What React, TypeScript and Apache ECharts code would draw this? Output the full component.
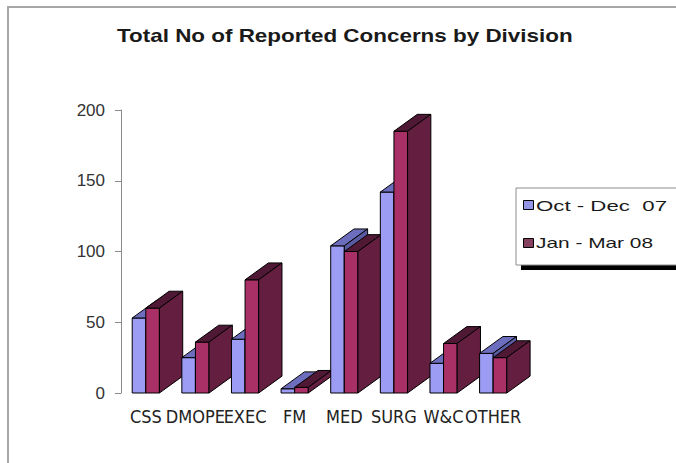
import React, { useEffect, useRef } from "react";
import * as echarts from "echarts";

// Divisions and reported concern counts per quarter
const categories = ["CSS", "DMOPE", "EXEC", "FM", "MED", "SURG", "W&C", "OTHER"];
const octDec07 = [53, 25, 38, 3, 104, 142, 21, 28];
const janMar08 = [60, 36, 80, 4, 100, 185, 35, 25];
const seriesNames = ["Oct - Dec  07", "Jan - Mar 08"];
const yTicks = { min: 0, max: 200, interval: 50 };
const titleText = "Total No of Reported Concerns by Division";

const W = 676;
const H = 463;

// Face colours for the pseudo-3D columns
const BLUE = { front: "#9c9cf4", top: "#6d6dbd", side: "#5a5aa0" };
const RED = { front: "#a83066", top: "#4f1834", side: "#631e40" };

// Horizontal stretch that makes a string occupy a given width
function stretchFor(text: string, font: string, width: number): number {
  const ctx = document.createElement("canvas").getContext("2d");
  if (!ctx) return 1;
  ctx.font = font;
  const w = ctx.measureText(text).width;
  return w > 0 ? width / w : 1;
}

export default function App() {
  const ref = useRef<HTMLDivElement>(null);

  useEffect(() => {
    document.body.style.margin = "0";
    if (!ref.current) return;
    const chart = echarts.init(ref.current, undefined, { renderer: "svg" });

    const titleFont = "bold 18px 'Liberation Sans'";
    const legendFont = "15px 'Liberation Sans'";
    const titleScale = stretchFor(titleText, titleFont, 456);
    const leg1Scale = stretchFor(seriesNames[0], legendFont, 131);
    const leg2Scale = stretchFor(seriesNames[1], legendFont, 117);

    const rows = categories.map((_, i) => [i, octDec07[i], janMar08[i]]);

    const renderItem = (params: any, api: any) => {
      const i = api.value(0);
      const base = api.coord([i, 0]);
      const bw = api.size([1, 0])[0];
      const w = bw * 0.274;
      const dx = bw * 0.47;
      const dy = bw * 0.34;
      const y0 = base[1];
      const children: any[] = [];
      const box = (x0: number, val: number, c: { front: string; top: string; side: string }) => {
        const yTop = api.coord([i, val])[1];
        const x1 = x0 + w;
        const st = (fill: string) => ({ fill, stroke: "#000", lineWidth: 1, lineJoin: "round" });
        children.push({
          type: "polygon",
          shape: { points: [[x0, y0], [x1, y0], [x1, yTop], [x0, yTop]] },
          style: st(c.front),
        });
        children.push({
          type: "polygon",
          shape: { points: [[x0, yTop], [x1, yTop], [x1 + dx, yTop - dy], [x0 + dx, yTop - dy]] },
          style: st(c.top),
        });
        children.push({
          type: "polygon",
          shape: { points: [[x1, y0], [x1 + dx, y0 - dy], [x1 + dx, yTop - dy], [x1, yTop]] },
          style: st(c.side),
        });
      };
      box(base[0] - w, api.value(1), BLUE);
      box(base[0], api.value(2), RED);
      return { type: "group", children };
    };

    chart.setOption({
      animation: false,
      backgroundColor: "#ffffff",
      grid: { left: 121, right: 158, top: 110, bottom: 70 },
      xAxis: {
        type: "category",
        data: categories,
        axisLine: { show: false },
        axisTick: { show: false },
        axisLabel: {
          interval: 0,
          margin: 14,
          color: "#222",
          fontSize: 18,
          fontFamily: "'Liberation Sans Narrow', 'DejaVu Sans Condensed', 'Liberation Sans', sans-serif",
        },
      },
      yAxis: {
        type: "value",
        min: yTicks.min,
        max: yTicks.max,
        interval: yTicks.interval,
        axisLine: { show: true, lineStyle: { color: "#8a8a8a", width: 1 } },
        axisTick: { show: true, length: 6, lineStyle: { color: "#8a8a8a" } },
        splitLine: { show: false },
        axisLabel: {
          margin: 16,
          color: "#333",
          fontSize: 17,
          fontFamily: "'Liberation Sans', sans-serif",
        },
      },
      series: [
        {
          type: "custom",
          renderItem,
          data: rows,
          encode: { x: 0, y: [1, 2] },
          silent: true,
          clip: false,
        },
      ],
      graphic: [
        // outer frame
        {
          type: "rect",
          shape: { x: 8, y: 7, width: 720, height: 520 },
          style: { fill: "none", stroke: "#a6a6a6", lineWidth: 2 },
          silent: true,
        },
        {
          type: "text",
          x: 117,
          y: 35.5,
          scaleX: titleScale,
          style: {
            text: titleText,
            font: titleFont,
            fill: "#1a1a1a",
            textAlign: "left",
            textVerticalAlign: "middle",
          },
        },
        // legend box with drop shadow
        {
          type: "rect",
          shape: { x: 521, y: 193, width: 200, height: 77 },
          style: { fill: "#000" },
          silent: true,
        },
        {
          type: "rect",
          shape: { x: 516, y: 188, width: 200, height: 77 },
          style: { fill: "#fff", stroke: "#8c8c8c", lineWidth: 1 },
          silent: true,
        },
        {
          type: "rect",
          shape: { x: 523.5, y: 200.5, width: 10, height: 9 },
          style: { fill: "#9595e6", stroke: "#000", lineWidth: 1 },
        },
        {
          type: "text",
          x: 536,
          y: 205.5,
          scaleX: leg1Scale,
          style: {
            text: seriesNames[0],
            font: legendFont,
            fill: "#1a1a1a",
            textAlign: "left",
            textVerticalAlign: "middle",
          },
        },
        {
          type: "rect",
          shape: { x: 523.5, y: 238.5, width: 10, height: 9 },
          style: { fill: "#84405e", stroke: "#000", lineWidth: 1 },
        },
        {
          type: "text",
          x: 536,
          y: 243,
          scaleX: leg2Scale,
          style: {
            text: seriesNames[1],
            font: legendFont,
            fill: "#1a1a1a",
            textAlign: "left",
            textVerticalAlign: "middle",
          },
        },
      ],
    });

    return () => chart.dispose();
  }, []);

  return (
    <div
      ref={ref}
      style={{ position: "absolute", left: 0, top: 0, width: W, height: H }}
    />
  );
}
